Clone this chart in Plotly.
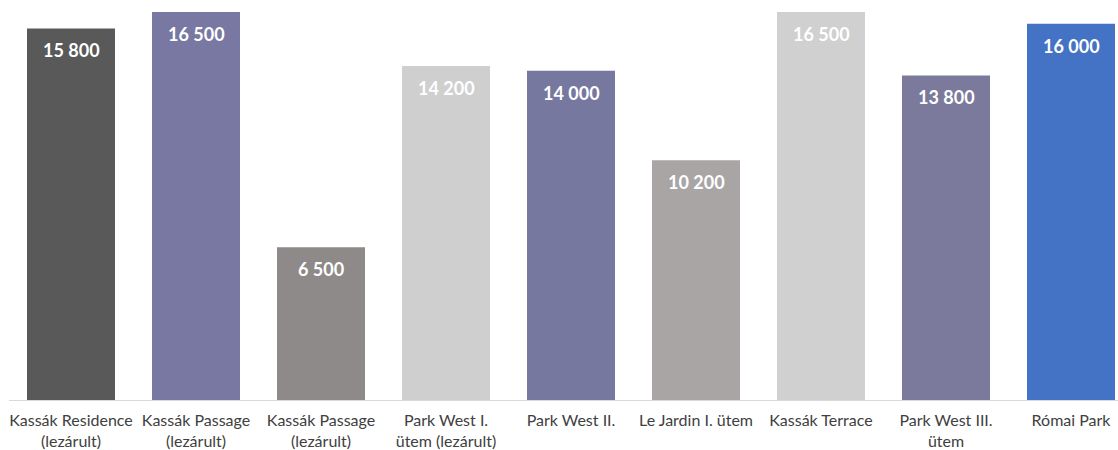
import plotly.graph_objects as go

categories = ["Kassák Residence<br>(lezárult)", "Kassák Passage<br>(lezárult)", "Kassák Passage<br>(lezárult)",
              "Park West I.<br>ütem (lezárult)", "Park West II.", "Le Jardin I. ütem",
              "Kassák Terrace", "Park West III.<br>ütem", "Római Park"]
values = [15800, 16500, 6500, 14200, 14000, 10200, 16500, 13800, 16000]
colors = ["#595959", "#7878A2", "#8D8A89", "#CFCFCF", "#77789F", "#A9A5A5", "#D0D0D0", "#7B7A9C", "#4472C4"]

xs = list(range(len(categories)))
fig = go.Figure(go.Bar(x=xs, y=values, marker=dict(color=colors, line=dict(width=0)),
                       width=0.704, hoverinfo="skip"))

for x, v in zip(xs, values):
    fig.add_annotation(x=x, y=v, text="<b>" + f"{v:,}".replace(",", " ") + "</b>",
                       showarrow=False, yanchor="top", yshift=-9,
                       font=dict(family="Lato, Open Sans, sans-serif", size=18, color="white"))

fig.update_layout(
    width=1118, height=450, margin=dict(l=9, r=0, t=0, b=50),
    plot_bgcolor="white", paper_bgcolor="white", showlegend=False,
    font=dict(family="Lato, Open Sans, sans-serif", size=16, color="#404040"),
    xaxis=dict(range=[-0.496, 8.376], tickvals=xs, ticktext=categories, showgrid=False,
               zeroline=False, showline=True, linecolor="#D9D9D9", linewidth=1,
               ticks="", ticklabelstandoff=6, fixedrange=True),
    yaxis=dict(range=[0, 17010], visible=False, showgrid=False, zeroline=False, fixedrange=True),
)
fig.write_html("out.html")
